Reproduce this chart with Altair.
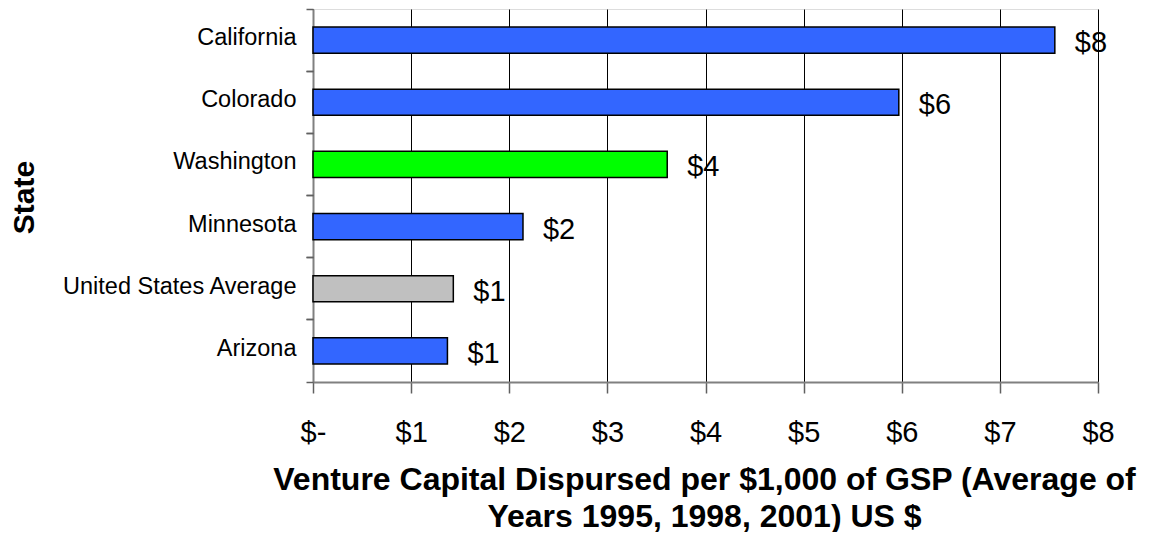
import altair as alt
import pandas as pd

# ---- data ----
states = ["California", "Colorado", "Washington", "Minnesota",
          "United States Average", "Arizona"]
values = [7.56, 5.97, 3.61, 2.14, 1.43, 1.37]
bar_colors = ["#3366FF", "#3366FF", "#00FF00", "#3366FF", "#C0C0C0", "#3366FF"]
x_ticks = [0, 1, 2, 3, 4, 5, 6, 7, 8]
x_title = ["Venture Capital Dispursed per $1,000 of GSP (Average of",
           "Years 1995, 1998, 2001) US $"]
y_title = "State"

df = pd.DataFrame({"state": states, "value": values, "color": bar_colors})

FONT = "Liberation Sans"

x_scale = alt.Scale(domain=[0, 8], nice=False, zero=True)
y_scale = alt.Scale(domain=states, paddingInner=0, paddingOuter=0)

x_axis = alt.Axis(
    values=x_ticks,
    labelExpr="datum.value == 0 ? '$-' : '$' + datum.value",
    labelFont=FONT, labelFontSize=29, labelColor="black", labelPadding=25,
    labelFlush=False, labelOverlap=False,
    tickSize=11, tickColor="#606060", tickWidth=1.5,
    domainColor="#808080", domainWidth=2,
    grid=True, gridColor="black", gridWidth=1,
    title=x_title, titleFont=FONT, titleFontSize=32, titleFontWeight="bold",
    titleColor="black", titleX=391, titleY=107, titleBaseline="alphabetic",
    titleAlign="center", titleLineHeight=37,
)

label_axis = alt.Axis(
    orient="left", ticks=False, tickSize=0, grid=False,
    domain=True, domainColor="#808080", domainWidth=2,
    labelFont=FONT, labelFontSize=23.5, labelColor="black", labelPadding=17,
    labelBaseline="middle", labelOffset=-2, labelLimit=400,
    title=y_title, titleFont=FONT, titleFontSize=30, titleFontWeight="bold",
    titleColor="black", titleX=-289, titleY=188, titleAngle=270,
    titleBaseline="middle", titleAlign="center",
)

tick_axis_start = alt.Axis(
    orient="left", labels=False, domain=False, grid=False, title=None,
    ticks=True, tickSize=7, tickColor="#606060", tickWidth=1.5, bandPosition=0,
)
tick_axis_end = alt.Axis(
    orient="left", labels=False, domain=False, grid=False, title=None,
    ticks=True, tickSize=7, tickColor="#606060", tickWidth=1.5, bandPosition=1,
)

bars = alt.Chart(df).mark_bar(
    height={"band": 0.42}, stroke="black", strokeWidth=1.5
).encode(
    x=alt.X("value:Q", scale=x_scale, axis=x_axis),
    y=alt.Y("state:N", scale=y_scale, axis=label_axis),
    color=alt.Color("color:N", scale=None),
)

text = alt.Chart(df).transform_calculate(
    label="'$' + format(datum.value, '.0f')"
).mark_text(
    align="left", baseline="middle", dx=20, dy=3,
    font=FONT, fontSize=29, color="black",
).encode(
    x=alt.X("value:Q", scale=x_scale, axis=x_axis),
    y=alt.Y("state:N", scale=y_scale, axis=tick_axis_start),
    text="label:N",
)

ghost = alt.Chart(df).mark_point(opacity=0).encode(
    x=alt.X("value:Q", scale=x_scale, axis=x_axis),
    y=alt.Y("state:N", scale=y_scale, axis=tick_axis_end),
)

chart = alt.layer(bars, text, ghost).resolve_scale(
    y="shared", x="shared"
).resolve_axis(
    y="independent"
).properties(
    width=785, height=373,
    autosize=alt.AutoSizeParams(type="none"),
    padding={"left": 305, "top": 1, "right": 43, "bottom": 150},
).configure_view(
    stroke="#808080", strokeWidth=2
).configure(
    background="white"
)

chart.save("out.html", embed_options={"renderer": "svg", "actions": False})
